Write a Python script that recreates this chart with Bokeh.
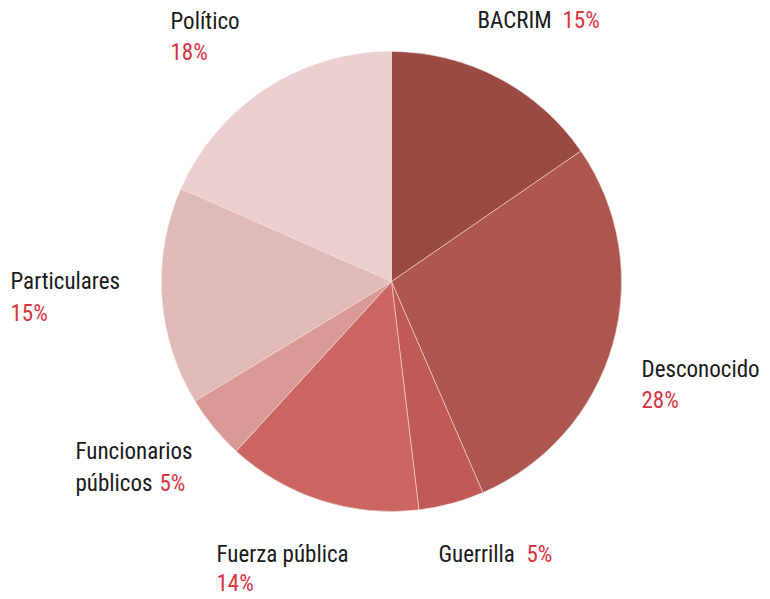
import math
from bokeh.plotting import figure
from bokeh.models import Range1d, ColumnDataSource
from bokeh.core.properties import value
from bokeh.embed import file_html
from bokeh.resources import INLINE

categories = ["BACRIM", "Desconocido", "Guerrilla", "Fuerza pública",
              "Funcionarios públicos", "Particulares", "Político"]
shares = [15.4, 28.1, 4.6, 13.7, 4.5, 15.3, 18.4]
pct_labels = ["15%", "28%", "5%", "14%", "5%", "15%", "18%"]
colors = ["#9A4A42", "#AD564F", "#BF5A54", "#CC6660", "#D99A97", "#E1B9B6", "#EBCFD1"]

W, H = 770, 599
p = figure(width=W, height=H, output_backend="svg", toolbar_location=None,
           x_range=Range1d(0, W), y_range=Range1d(0, H),
           min_border=0, outline_line_color=None)
p.axis.visible = False
p.grid.visible = False
p.background_fill_color = "white"
p.border_fill_color = "white"

def sx(x):
    return x

def sy(y):
    return H - y

total = sum(shares)
starts, ends = [], []
cum = 0.0
for v in shares:
    starts.append(math.pi / 2 - 2 * math.pi * cum / total)
    cum += v
    ends.append(math.pi / 2 - 2 * math.pi * cum / total)

src = ColumnDataSource(dict(cat=categories, start=starts, end=ends, color=colors))
p.wedge(x=sx(391), y=sy(281), radius=230, start_angle="start", end_angle="end",
        direction="clock", fill_color="color", line_color="#F3DADA", line_width=0.6,
        source=src)

FONT = value("'Liberation Sans Narrow', 'Roboto Condensed', 'Liberation Sans', sans-serif")
BLACK = "#1a1a1a"
RED = "#D9343F"
FS = "23px"
DY = 8  # baseline correction

# (text, screen x, screen baseline y, color)
label_items = [
    (categories[6], 170, 29, BLACK), (pct_labels[6], 170, 60, RED),
    (categories[0], 477, 28, BLACK), (pct_labels[0], 562, 28, RED),
    (categories[1], 641, 377, BLACK), (pct_labels[1], 641, 408, RED),
    (categories[5], 10, 289, BLACK), (pct_labels[5], 10, 321, RED),
    ("Funcionarios", 75, 459, BLACK), ("públicos", 75, 491, BLACK), (pct_labels[4], 159, 491, RED),
    (categories[3], 216, 562, BLACK), (pct_labels[3], 216, 591, RED),
    (categories[2], 438, 562, BLACK), (pct_labels[2], 526, 562, RED),
]
for txt, x, y, c in label_items:
    p.text(x=[sx(x)], y=[sy(y - DY)], text=[txt], text_font=FONT, text_font_size=FS,
           text_color=c, text_align="left", text_baseline="alphabetic")

open("out.html", "w").write(file_html(p, INLINE))
